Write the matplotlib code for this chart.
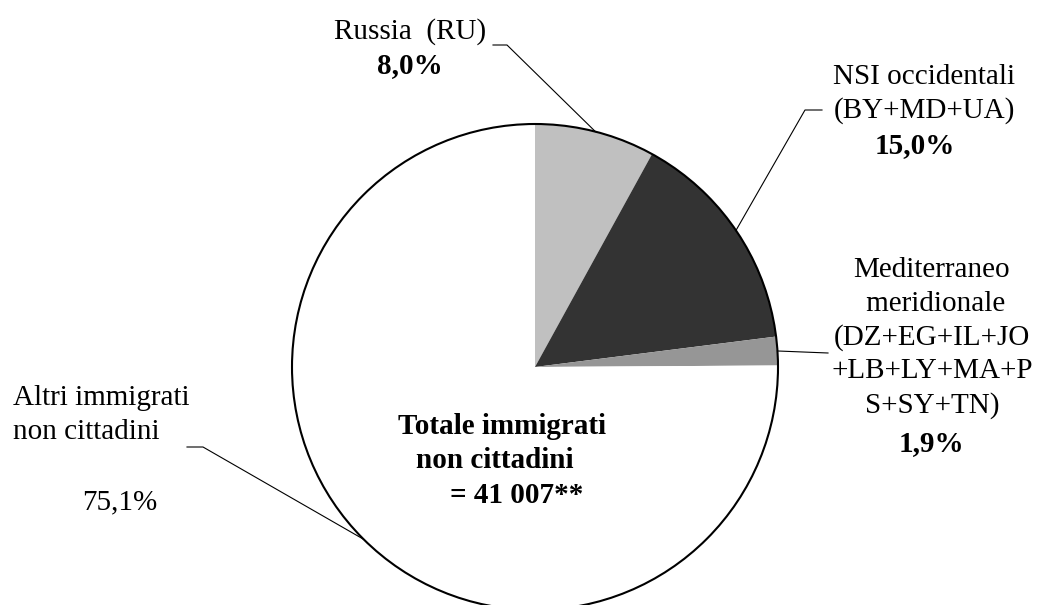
import numpy as np
import matplotlib
matplotlib.use("Agg")
import matplotlib.pyplot as plt
from matplotlib.patches import Circle

# dati (percentuali sul totale immigrati non cittadini)
categorie = ["Russia  (RU)", "NSI occidentali\n(BY+MD+UA)",
             "Mediterraneo\n meridionale\n(DZ+EG+IL+JO\n+LB+LY+MA+P\nS+SY+TN)",
             "Altri immigrati\nnon cittadini"]
valori = [8.0, 15.0, 1.9, 75.1]
etichette_pct = ["8,0%", "15,0%", "1,9%", "75,1%"]
colori = ["#c0c0c0", "#333333", "#969696", "#ffffff"]
totale = "Totale immigrati\nnon cittadini  \n    = 41 007**"

W, H = 1039, 605
plt.rcParams['font.family'] = ['Liberation Serif', 'DejaVu Serif']
fig = plt.figure(figsize=(W / 100, H / 100), dpi=100)
ax = fig.add_axes([0, 0, 1, 1])

cx, cy, r = 535, H - 367, 243

wedges, _ = ax.pie(valori, colors=colori, startangle=90, counterclock=False,
                   center=(cx, cy), radius=r, wedgeprops=dict(linewidth=0))
ax.add_patch(Circle((cx, cy), r, fill=False, edgecolor='black', lw=1.5, zorder=3))
ax.set_xlim(0, W)
ax.set_ylim(0, H)
ax.set_aspect('equal')
ax.axis('off')

def py(y):
    return H - y

# posizioni delle etichette (pixel, y dall'alto)
# (x nome, y nome, x pct, y pct, ha nome, gomito linea, fine tratto orizzontale)
layout = [
    (410, 32, 410, 66, 'center', (507, 45), (493, 45)),
    (924, 94, 915, 146, 'center', (805, 110), (822, 110)),
    (932, 338, 931, 444, 'center', None, (828, 353)),
    (13, 415, 120, 502, 'left', (203, 447), (187, 447)),
]

fs = 21
ls = 1.36
for i, (w, nome, pct) in enumerate(zip(wedges, categorie, etichette_pct)):
    xn, yn, xp, yp, ha, gomito, fine = layout[i]
    ax.text(xn, py(yn), nome, ha=ha, va='center', fontsize=fs,
            multialignment='center' if ha == 'center' else 'left', linespacing=ls)
    ax.text(xp, py(yp), pct, ha='center', va='center', fontsize=fs,
            fontweight='bold' if i < 3 else 'normal')
    ang = np.deg2rad((w.theta1 + w.theta2) / 2)
    px, pyy = cx + r * np.cos(ang), cy + r * np.sin(ang)
    xs, ys = [px], [pyy]
    if gomito is not None:
        xs.append(gomito[0]); ys.append(py(gomito[1]))
    xs.append(fine[0]); ys.append(py(fine[1]))
    ax.plot(xs, ys, color='black', lw=0.8, zorder=4)

ax.text(502, py(461), totale, ha='center', va='center', fontsize=fs,
        fontweight='bold', multialignment='center', linespacing=ls)

fig.savefig("out.png", dpi=100)
